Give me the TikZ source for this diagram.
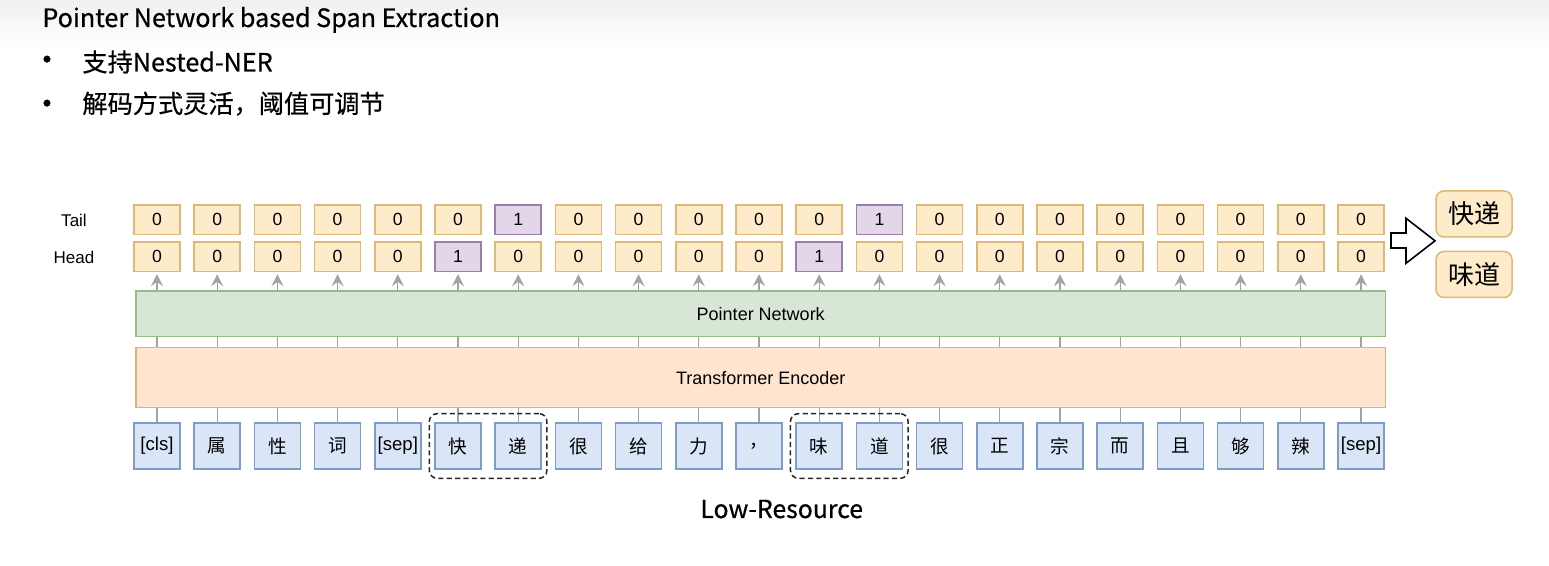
\documentclass[tikz,border=0pt]{standalone}
\usepackage{fontspec}
\setmainfont{Liberation Sans}
\newfontfamily\cjk{Noto Sans CJK SC}
\newfontfamily\cjkhead[FakeBold=0.5]{Noto Sans CJK SC}
\usepackage{tikz}
\usetikzlibrary{arrows.meta, positioning, calc, fit}

\definecolor{valfill}{HTML}{FDEBCA}
\definecolor{valdraw}{HTML}{DDB877}
\definecolor{hitfill}{HTML}{E2D6E8}
\definecolor{hitdraw}{HTML}{9A7FAB}
\definecolor{tokfill}{HTML}{DAE6F8}
\definecolor{tokdraw}{HTML}{7D9CC7}
\definecolor{pnfill}{HTML}{D8E7D5}
\definecolor{pndraw}{HTML}{97BB84}
\definecolor{encfill}{HTML}{FFE5CF}
\definecolor{encdraw}{HTML}{E0B27A}
\definecolor{linkgray}{HTML}{A3A3A3}

\begin{document}
\begin{tikzpicture}[
    x=0.5pt, y=-0.5pt, >=Stealth,
    valbox/.style={draw=valdraw, fill=valfill, line width=0.75pt,
        minimum width=23pt, minimum height=14.8pt, inner sep=0pt,
        font=\fontsize{8.8}{9}\selectfont},
    hitbox/.style={valbox, draw=hitdraw, fill=hitfill},
    tokbox/.style={draw=tokdraw, fill=tokfill, line width=0.75pt,
        minimum width=23pt, minimum height=23pt, inner sep=0pt,
        font=\cjk\fontsize{9.3}{10}\selectfont},
    layerbox/.style={draw=#1draw, fill=#1fill, line width=0.75pt,
        minimum width=624.75pt, inner sep=0pt,
        font=\fontsize{9}{10}\selectfont},
    spanbox/.style={draw=black!85, dashed, dash pattern=on 2.6pt off 1.6pt,
        line width=0.75pt, rounded corners=4pt,
        inner xsep=2.5pt, inner ysep=4.3pt},
    outbox/.style={draw=valdraw, fill=valfill, line width=0.75pt,
        rounded corners=4pt, minimum width=38pt, minimum height=23pt,
        inner sep=0pt, font=\cjk\fontsize{13}{14}\selectfont},
    rowlabel/.style={font=\fontsize{8.5}{9}\selectfont},
    link/.style={draw=linkgray, line width=0.6pt},
    ptr/.style={link, -{Stealth[length=6pt, width=6pt, inset=2.2pt]}},
    heading/.style={font=\cjkhead\fontsize{12.6}{14}\selectfont,
        anchor=base west, inner sep=0pt},
    bullet/.style={font=\cjkhead\fontsize{16}{16}\selectfont, inner sep=0pt},
]
%% ========== PAGE ==========
\fill[white] (0,0) rectangle (1549,566);
\shade[top color=black!6, bottom color=white] (0,0) rectangle (1549,45);
\useasboundingbox (0,0) rectangle (1549,566);

%% ========== HEADING ==========
\node[heading] (title) at (42,27) {Pointer Network based Span Extraction};
\node[bullet] (dot1) at (47,63.5) {•};
\node[heading] (pt1) at (82,71.5) {支持Nested-NER};
\node[bullet] (dot2) at (47,107.5) {•};
\node[heading] (pt2) at (82,113) {解码方式灵活，阈值可调节};

%% ========== TOKENS ==========
\foreach \w [count=\i from 0] in {{\rmfamily[cls]},属,性,词,{\rmfamily[sep]},
    快,递,很,给,力,，,味,道,很,正,宗,而,且,够,辣,{\rmfamily[sep]}} {
  \pgfmathsetmacro\cx{157+60.2*\i}
  \node[tokbox] (tok\i) at (\cx,446) {\w};
}

%% ========== ENCODER / POINTER NETWORK ==========
\node[layerbox=enc, minimum height=30pt] (enc) at (760.75,377.7) {Transformer Encoder};
\node[layerbox=pn, minimum height=22.75pt] (pn) at (760.75,313.75) {Pointer Network};

%% ========== HEAD / TAIL ==========
\foreach \v [count=\i from 0] in {0,0,0,0,0,1,0,0,0,0,0,1,0,0,0,0,0,0,0,0,0} {
  \pgfmathsetmacro\cx{157+60.2*\i}
  \ifnum\v=1 \def\sty{hitbox}\else\def\sty{valbox}\fi
  \node[\sty] (head\i) at (\cx,256.7) {\v};
}
\foreach \v [count=\i from 0] in {0,0,0,0,0,0,1,0,0,0,0,0,1,0,0,0,0,0,0,0,0} {
  \pgfmathsetmacro\cx{157+60.2*\i}
  \ifnum\v=1 \def\sty{hitbox}\else\def\sty{valbox}\fi
  \node[\sty] (tail\i) at (\cx,219.7) {\v};
}
\node[rowlabel] (taillab) at (74,220) {Tail};
\node[rowlabel] (headlab) at (74,257) {Head};

%% ========== CONNECTORS ==========
\foreach \i in {0,...,20} {
  \draw[link] (tok\i.north) -- (tok\i.north |- enc.south);
  \draw[link] (enc.north -| tok\i) -- (pn.south -| tok\i);
  \draw[ptr] (pn.north -| head\i) -- ([yshift=-1pt]head\i.south);
}

%% ========== SPANS ==========
\node[spanbox, fit=(tok5)(tok6)] (span1) {};
\node[spanbox, fit=(tok11)(tok12)] (span2) {};

%% ========== OUTPUT ==========
\draw[line width=0.8pt, fill=white, line join=miter]
    (1391,233) -- (1406,233) -- (1406,218.3) -- (1435,240.8)
    -- (1406,263.3) -- (1406,248) -- (1391,248) -- cycle;
\node[outbox] (out1) at (1474,214) {快递};
\node[outbox] (out2) at (1474,274.5) {味道};

%% ========== FOOTER ==========
\node[font=\cjkhead\fontsize{12.4}{14}\selectfont, anchor=base] (lowres) at (781.7,518) {Low-Resource};
\end{tikzpicture}
\end{document}
